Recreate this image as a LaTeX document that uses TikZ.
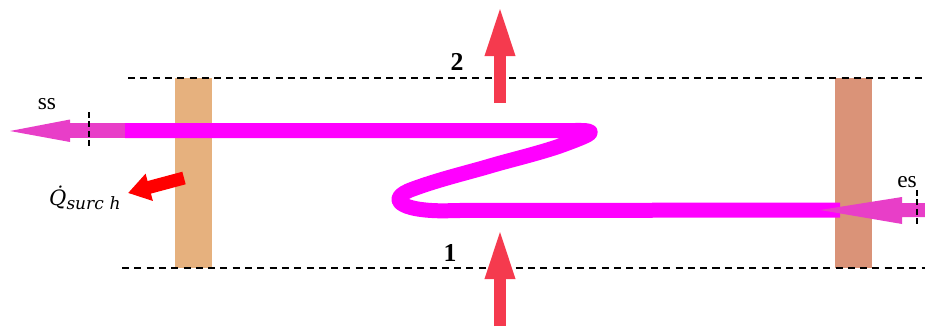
\documentclass[tikz,border=0pt]{standalone}
\usepackage{fontspec}
\setmainfont{Liberation Serif}
\newfontfamily\qfont{DejaVu Serif}
\usetikzlibrary{arrows.meta}
\definecolor{bartan}{HTML}{E6B17E}
\definecolor{barrose}{HTML}{DA9378}
\definecolor{flowmag}{HTML}{FF00FF}
\definecolor{flowpink}{HTML}{E83EC8}
\definecolor{heatred}{HTML}{F53A4E}
\definecolor{qred}{HTML}{FF0000}
\tikzset{
  bound/.style={black, line width=1.3pt, dash pattern=on 6pt off 4.5pt},
  tick/.style={black, line width=1.5pt, dash pattern=on 5pt off 3pt},
  flow/.style={flowmag, line width=0.45cm, line join=round},
  bigarrow/.style={heatred, line width=0.36cm, -{Triangle[length=1.56cm,width=0.8cm]}},
  lab/.style={font=\fontsize{20}{24}\selectfont, inner sep=0pt},
  numlab/.style={font=\fontsize{22}{26}\selectfont\bfseries, inner sep=0pt}
}
\begin{document}
\begin{tikzpicture}[x=0.03cm,y=-0.03cm]
\useasboundingbox (0,0) rectangle (925,327);
% walls
\fill[bartan] (175,78) rectangle (212,268);
\fill[barrose] (835,78) rectangle (872,268);
% boundaries
\draw[bound] (128,78) -- (925,78);
\draw[bound] (122,268) -- (925,268);
% flow path
\coordinate (fin) at (840,210);
\coordinate (fout) at (70,130.5);
\draw[flow] (fin) -- (455,210.5) .. controls (405,213) and (382,200) .. (413,189)
  .. controls (440,179) and (470,172) .. (490,166)
  .. controls (510,160) and (545,152) .. (568,143)
  .. controls (592,134) and (600,130) .. (575,130.5)
  -- (125,130.5);
\draw[flowpink, line width=0.45cm] (125,130.5) -- (fout);
\fill[flowpink] (fout) ++(0,-11) -- (10,131) -- (70,142) -- cycle;
% inlet arrow
\fill[flowpink] (925,203) -- (902,203) -- (902,197) -- (820,210) -- (902,224) -- (902,217) -- (925,217) -- cycle;
% ticks
\draw[tick] (89,112) -- (89,146);
\draw[tick] (917,190) -- (917,224);
% heat arrows
\coordinate (t1) at (500,103);
\coordinate (t2) at (500,4);
\coordinate (b1) at (500,326);
\coordinate (b2) at (500,227);
\draw[bigarrow] (t1) -- (t2);
\draw[bigarrow] (b1) -- (b2);
\coordinate (q1) at (184,178);
\coordinate (q2) at (128,193);
\draw[qred, line width=0.39cm, -{Triangle[length=0.66cm,width=0.8cm]}] (q1) -- (q2);
% labels
\node[lab] (ss) at (47,104) {ss};
\node[lab] (es) at (907,182) {es};
\node[numlab] (n2) at (457,62) {2};
\node[numlab] (n1) at (450,253) {1};
\node[inner sep=0pt, anchor=base west, font=\qfont\itshape\fontsize{18}{22}\selectfont] (qs) at (49,205) {Q̇\lower 4pt\hbox{\fontsize{14.5}{18}\selectfont surc\hspace{0.35em}h}};
\end{tikzpicture}
\end{document}
